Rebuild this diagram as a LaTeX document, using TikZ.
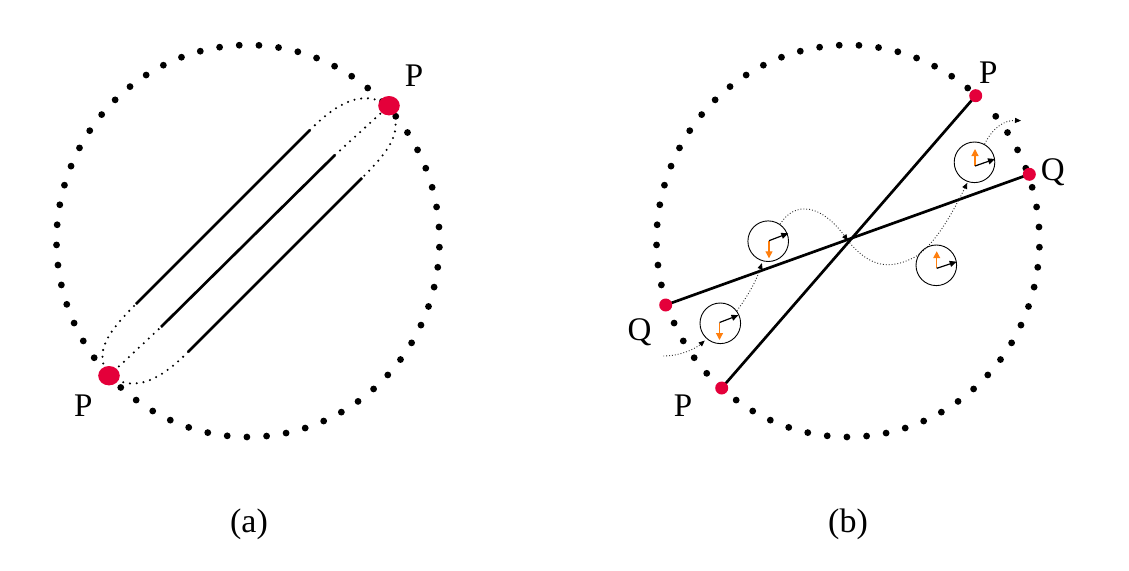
\documentclass[tikz,border=0pt]{standalone}
\usepackage{fontspec}
\setmainfont{Liberation Serif}
\usetikzlibrary{arrows.meta,shapes.geometric}
\definecolor{ptred}{RGB}{228,0,58}
\definecolor{vecorange}{RGB}{255,127,14}
\begin{document}
\begin{tikzpicture}[x=1pt,y=-1pt,
  bigdot/.style={fill=black},
  solidseg/.style={line width=2.7pt},
  dotseg/.style={line width=2.3pt, line cap=round, dash pattern=on 0pt off 6.8pt},
  redA/.style={ellipse, fill=ptred, minimum width=21.6pt, minimum height=19.4pt, inner sep=0pt},
  redB/.style={circle, fill=ptred, minimum size=13pt, inner sep=0pt},
  frame/.style={circle, draw, line width=0.9pt, minimum size=40.6pt, inner sep=0pt},
  blackvec/.style={line width=1.2pt, -{Triangle[length=7pt,width=6pt]}},
  orangevec/.style={draw=vecorange, line width=1.2pt, -{Triangle[length=7pt,width=7pt]}},
  flow/.style={draw=black!85, line width=0.9pt, dash pattern=on 0.9pt off 2pt,
    -{Triangle[length=6pt,width=5pt,color=black]}},
  lbl/.style={font=\fontsize{33}{36}\selectfont, inner sep=0pt, anchor=base},
  sublabel/.style={font=\fontsize{34}{38}\selectfont, inner sep=0pt, anchor=base}]
\useasboundingbox (0,0) rectangle (1129,570);

% ---------------- panel (a) ----------------
\foreach \i in {0,...,60}{
  \fill[bigdot] ({248+191.5*cos(4.1+\i*5.9016)},{241-196*sin(4.1+\i*5.9016)}) circle[radius=3.4pt];
}
\coordinate (pt) at (389,105.7);
\coordinate (pb) at (109,375.7);
\coordinate (u1) at (136,304);
\coordinate (u2) at (310,130);
\coordinate (m1) at (161,327);
\coordinate (m2) at (335,155);
\coordinate (l1) at (188,352);
\coordinate (l2) at (362,178);
% upper path
\draw[dotseg] (pb) .. controls (92,352) and (110,330) .. (u1);
\draw[solidseg] (u1) -- (u2);
\draw[dotseg] (u2) .. controls (336,104) and (362,88) .. (pt);
% middle path
\draw[dotseg] (pb) -- (m1);
\draw[solidseg] (m1) -- (m2);
\draw[dotseg] (m2) -- (pt);
% lower path
\draw[dotseg] (pt) .. controls (406,130) and (388,152) .. (l2);
\draw[solidseg] (l2) -- (l1);
\draw[dotseg] (l1) .. controls (162,378) and (136,394) .. (pb);
\node[redA] (ptdot) at (pt) {};
\node[redA] (pbdot) at (pb) {};
\node[lbl] (lpt) at (414,86.7) {P};
\node[lbl] (lpb) at (83.3,416.7) {P};
\node[sublabel] (capa) at (249,532) {(a)};

% ---------------- panel (b) ----------------
\foreach \i in {0,...,60}{
  \ifnum\i=7\else
  \fill[bigdot] ({848+191.5*cos(4.1+\i*5.9016)},{241-196*sin(4.1+\i*5.9016)}) circle[radius=3.4pt];
  \fi
}
\coordinate (rpt) at (975.7,95.7);
\coordinate (rpb) at (721.7,388);
\coordinate (rqr) at (1029.3,174.3);
\coordinate (rql) at (665.7,305);
\coordinate (xc) at (847.8,240.5);
\draw[solidseg] (rpb) -- (rpt);
\draw[solidseg] (rql) -- (rqr);
\node[redB] (rptdot) at (rpt) {};
\node[redB] (rpbdot) at (rpb) {};
\node[redB] (rqrdot) at (rqr) {};
\node[redB] (rqldot) at (rql) {};

% frames
\node[frame] (f1) at (720.3,323.3) {};
\node[frame] (f2) at (768.2,241.2) {};
\node[frame] (f3) at (936.3,265.3) {};
\node[frame] (f4) at (974.5,162.3) {};

% vectors in frames
\coordinate (o1) at (719.5,322.5); \coordinate (b1) at (738.5,315.2); \coordinate (r1) at (719.5,340);
\coordinate (o2) at (769,240.7);   \coordinate (b2) at (788.3,233.3); \coordinate (r2) at (769,258.3);
\coordinate (o3) at (936.7,268.3); \coordinate (b3) at (956.7,261.7); \coordinate (r3) at (936.7,251.2);
\coordinate (o4) at (975,166);     \coordinate (b4) at (995,159);     \coordinate (r4) at (975,149);
\draw[orangevec] (o1) -- (r1);
\draw[orangevec] (o2) -- (r2);
\draw[orangevec] (o3) -- (r3);
\draw[orangevec] (o4) -- (r4);
\draw[blackvec] (o1) -- (b1);
\draw[blackvec] (o2) -- (b2);
\draw[blackvec] (o3) -- (b3);
\draw[blackvec] (o4) -- (b4);

% dotted trajectory
\coordinate (s0) at (663.3,356);
\coordinate (e5) at (1021,120.7);
\draw[flow, shorten >=2.5pt] (s0) .. controls (680,356) and (695,349) .. (f1.-131);
\draw[flow, shorten >=2pt] (f1.37) .. controls (747,297) and (756,282) .. (f2.-106);
\draw[flow] (f2.55) .. controls (795,200) and (822,205) .. (xc);
\draw[flow, shorten >=1pt] (xc) .. controls (870,268) and (890,270) .. (915,257)
   .. controls (935,245) and (953,212) .. (f4.-109);
\draw[flow] (f4.61) .. controls (993,127) and (1005,120) .. (e5);

\node[lbl] (rlpt) at (988.3,83.3) {P};
\node[lbl] (rlqr) at (1052.8,180.6) {Q};
\node[lbl] (rlql) at (639.5,340.6) {Q};
\node[lbl] (rlpb) at (683,416.7) {P};
\node[sublabel] (capb) at (848,532) {(b)};
\end{tikzpicture}
\end{document}
